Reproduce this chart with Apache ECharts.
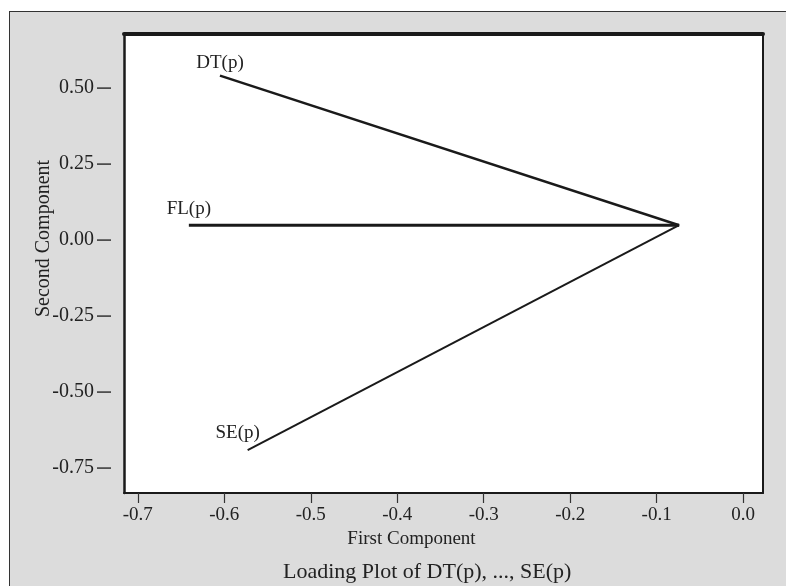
<!DOCTYPE html>
<html>
<head>
<meta charset="utf-8">
<script src="https://cdn.jsdelivr.net/npm/echarts@6/dist/echarts.min.js"></script>
<style>
  html, body { margin: 0; padding: 0; background: #fff; }
  #frame { position: absolute; left: 9px; top: 11px; width: 790px; height: 590px;
           background: #dcdcdc; border: 1.5px solid #333; box-sizing: border-box; }
  #chart { position: absolute; left: 0; top: 0; width: 786px; height: 586px; }
</style>
</head>
<body>
<div id="frame"></div>
<div id="chart"></div>
<script type="text/javascript">
// loading vectors, each drawn from the common centre point
var varNames = ['DT(p)', 'FL(p)', 'SE(p)'];
var loadX = [-0.605, -0.641, -0.573];
var loadY = [0.541, 0.049, -0.691];
var centreX = -0.074;
var centreY = 0.049;
var lineWidths = [2.5, 3, 2];

var xTicks = [-0.7, -0.6, -0.5, -0.4, -0.3, -0.2, -0.1, 0.0];
var yTicks = [-0.75, -0.5, -0.25, 0.0, 0.25, 0.5];

var xMin = -0.716, xMax = 0.023;
var yMin = -0.832, yMax = 0.678;

var font = 'Liberation Serif';
var ink = '#1a1a1a';

var labelSpots = [
    {position: 'top', distance: 3, offset: [0, 0]},
    {position: 'top', distance: 7, offset: [0, 0]},
    {position: 'top', distance: 8, offset: [-10, 0]}
];

var series = [];
for (var i = 0; i < varNames.length; i++) {
    series.push({
        name: varNames[i],
        type: 'line',
        xAxisIndex: 0,
        yAxisIndex: 0,
        symbol: 'circle',
        symbolSize: 0,
        showSymbol: true,
        lineStyle: {color: ink, width: lineWidths[i]},
        itemStyle: {color: ink},
        data: [
            {
                value: [loadX[i], loadY[i]],
                label: {
                    show: true,
                    formatter: varNames[i],
                    position: labelSpots[i].position,
                    distance: labelSpots[i].distance,
                    offset: labelSpots[i].offset,
                    fontFamily: font,
                    fontSize: 19,
                    color: '#222'
                }
            },
            {value: [centreX, centreY]}
        ]
    });
}

var myChart = echarts.init(document.getElementById('chart'));
var option = {
    animation: false,
    backgroundColor: 'transparent',
    title: {
        text: 'Loading Plot of DT(p), ..., SE(p)',
        left: 278,
        top: 556,
        textStyle: {fontFamily: font, fontSize: 22, fontWeight: 'normal', color: '#222'}
    },
    grid: {
        left: 124, top: 34, right: 23, bottom: 93,
        show: true, backgroundColor: '#fff', borderWidth: 0
    },
    xAxis: [
        {
            type: 'value', position: 'bottom', min: xMin, max: xMax,
            splitLine: {show: false},
            axisLine: {show: true, onZero: false, lineStyle: {color: ink, width: 2}},
            axisTick: {show: true, inside: false, length: 10, customValues: xTicks,
                       lineStyle: {color: '#333', width: 1.2}},
            axisLabel: {customValues: xTicks, margin: 13, fontFamily: font, fontSize: 19, color: '#222',
                        formatter: function (v) { return v.toFixed(1); }},
            name: 'First Component',
            nameLocation: 'middle',
            nameGap: 37,
            nameTextStyle: {fontFamily: font, fontSize: 19, color: '#222', padding: [0, 64, 0, 0]}
        },
        {
            type: 'value', position: 'top', min: xMin, max: xMax,
            splitLine: {show: false},
            axisLine: {show: true, onZero: false, lineStyle: {color: ink, width: 4}},
            axisTick: {show: false},
            axisLabel: {show: false}
        }
    ],
    yAxis: [
        {
            type: 'value', position: 'left', min: yMin, max: yMax,
            splitLine: {show: false},
            axisLine: {show: true, onZero: false, lineStyle: {color: ink, width: 2.5}},
            axisTick: {show: false},
            axisLabel: {
                customValues: yTicks, margin: 13,
                formatter: function (v) { return '{v|' + v.toFixed(2) + '}{t|}'; },
                rich: {
                    v: {fontFamily: font, fontSize: 20, color: '#222', verticalAlign: 'middle', padding: [0, 3, 0, 0]},
                    t: {width: 14, height: 1.5, backgroundColor: '#333', verticalAlign: 'middle'}
                }
            },
            name: 'Second Component',
            nameLocation: 'middle',
            nameGap: 70,
            nameMoveOverlap: false,
            nameTextStyle: {fontFamily: font, fontSize: 20, color: '#222', padding: [0, 0, 0, 50]}
        },
        {
            type: 'value', position: 'right', min: yMin, max: yMax,
            splitLine: {show: false},
            axisLine: {show: true, onZero: false, lineStyle: {color: ink, width: 2}},
            axisTick: {show: false},
            axisLabel: {show: false}
        }
    ],
    series: series
};
myChart.setOption(option);
</script>
</body>
</html>
